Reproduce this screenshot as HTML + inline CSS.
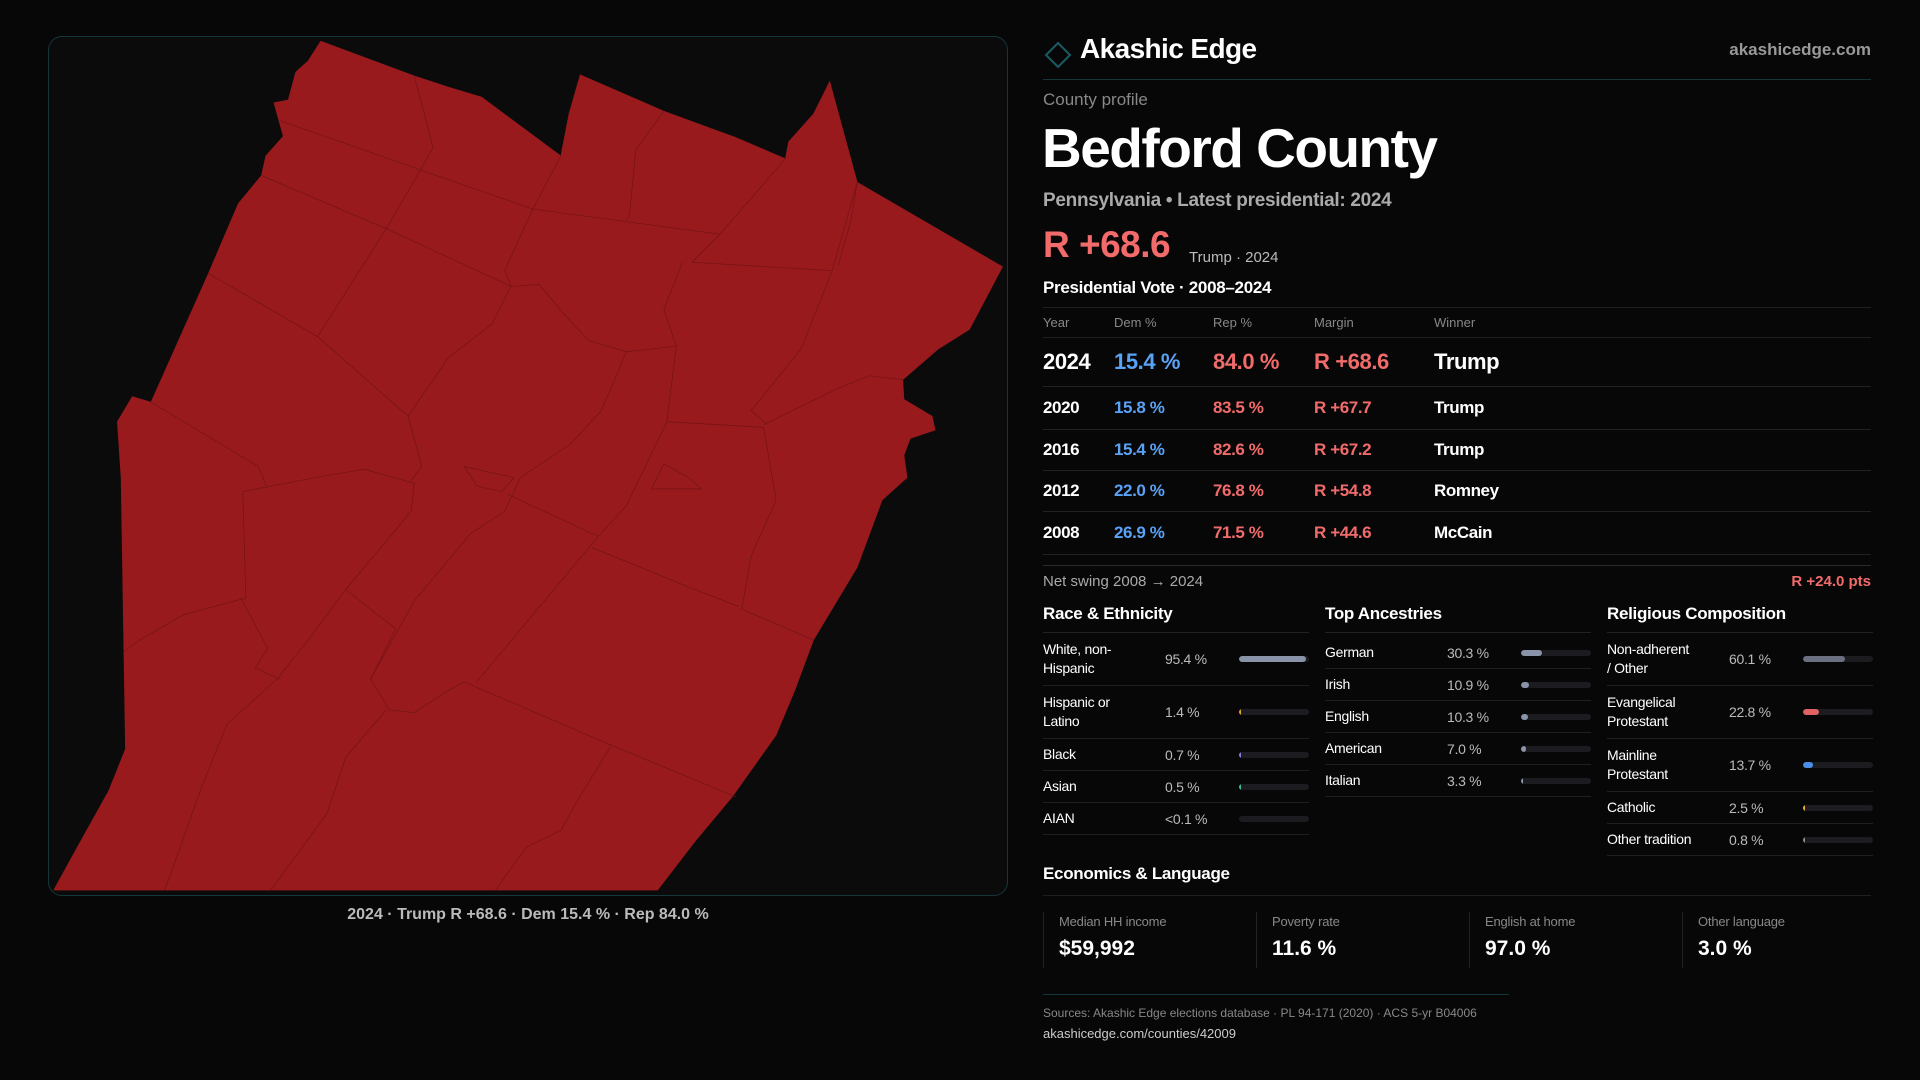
<!DOCTYPE html>
<html><head><meta charset="utf-8">
<style>
*{box-sizing:border-box;margin:0;padding:0}
body{width:1920px;height:1080px;background:#070708;font-family:"Liberation Sans",sans-serif;color:#fff;position:relative;overflow:hidden}
.abs{position:absolute;white-space:nowrap}
#map-panel{position:absolute;left:48px;top:36px;width:960px;height:860px;border:1px solid #15363b;border-radius:14px;background:#0b0b0c;overflow:hidden}
.hline{position:absolute;height:1px;background:#1f1f22}
.col{position:absolute;top:600px;width:266px}
.col h3{font-size:17px;font-weight:bold;height:33px;line-height:27px;border-bottom:1px solid #222;letter-spacing:-0.3px}
.row{display:flex;align-items:center;border-bottom:1px solid #1f1f22;font-size:14px;letter-spacing:-0.3px}
.row .lab{width:122px;line-height:19px;white-space:normal}
.row .val{width:74px;color:#bbb}
.row .bar{width:70px;height:6px;border-radius:3px;background:#1c1c20;position:relative;overflow:hidden}
.row .fill{position:absolute;left:0;top:0;bottom:0;border-radius:3px}
.trow{position:absolute;left:1043px;width:828px;border-bottom:1px solid #222;display:flex;align-items:center}
.trow span{position:absolute;white-space:nowrap}
.stat{position:absolute;top:912px;width:213px;height:56px;border-left:1px solid #222;padding-left:15px}
.stat .l{font-size:13px;color:#888;margin-top:2px;letter-spacing:-0.2px}
.stat .v{font-size:21px;font-weight:bold;margin-top:8px}
</style></head><body>

<div id="map-panel"></div>
<svg class="abs" style="left:0;top:0" width="1920" height="1080">
 <g transform="translate(40,30) scale(0.6238,0.5596)">
  <path fill="#981a1d" stroke="#981a1d" d="M450,20 L600,82 L655,102 L708,120 L835,225 L848,150 L866,80 L1000,145 L1115,192 L1195,230 L1200,200 L1240,150 L1266,92 L1310,272 L1543,423 L1490,535 L1440,570 L1383,625 L1385,660 L1430,690 L1435,715 L1395,730 L1385,760 L1390,800 L1350,840 L1310,960 L1240,1090 L1210,1180 L1180,1260 L1110,1370 L1050,1450 L990,1537 L22,1537 L60,1460 L110,1360 L137,1285 L130,800 L124,700 L148,655 L178,665 L270,435 L318,310 L355,260 L362,225 L390,190 L375,130 L398,125 L410,75 L430,55 Z"/>
  <g fill="none" stroke="#741316" stroke-width="0.7">
   <path vector-effect="non-scaling-stroke" d="M385,162 L610,250 L790,320 L1090,365"/>
   <path vector-effect="non-scaling-stroke" d="M600,82 L630,210 L610,250 L555,355 L445,548 L590,690 L612,780 L595,805"/>
   <path vector-effect="non-scaling-stroke" d="M355,260 L555,355 L755,458"/>
   <path vector-effect="non-scaling-stroke" d="M270,435 L445,548"/>
   <path vector-effect="non-scaling-stroke" d="M178,665 L350,780 L365,820"/>
   <path vector-effect="non-scaling-stroke" d="M835,225 L790,320 L745,430 L755,458 L725,525 L655,585 L590,690"/>
   <path vector-effect="non-scaling-stroke" d="M1000,145 L955,215 L945,330 L940,340"/>
   <path vector-effect="non-scaling-stroke" d="M1195,230 L1090,365 L1045,415 L1270,430 L1310,272"/>
   <path vector-effect="non-scaling-stroke" d="M1030,415 L1000,500 L1020,565 L1005,700 L940,850 L895,905 L700,1165"/>
   <path vector-effect="non-scaling-stroke" d="M755,458 L800,455 L850,520 L880,555 L940,575 L1020,565"/>
   <path vector-effect="non-scaling-stroke" d="M940,575 L900,680 L850,740 L770,800 L745,860 L690,900 L600,1020 L530,1160 L560,1215 L600,1220 L655,1180 L680,1165 L920,1280 L1115,1370"/>
   <path vector-effect="non-scaling-stroke" d="M325,825 L440,800 L520,785 L600,810 L595,860 L490,1000 L430,1090 L380,1160 L300,1240 L260,1350 L200,1537"/>
   <path vector-effect="non-scaling-stroke" d="M1005,700 L1160,710 L1180,840 L1140,940 L1125,1035 L1240,1090"/>
   <path vector-effect="non-scaling-stroke" d="M885,925 L1050,1000 L1120,1030"/>
   <path vector-effect="non-scaling-stroke" d="M750,830 L895,905"/>
   <path vector-effect="non-scaling-stroke" d="M325,825 L330,1015 L230,1045 L160,1090 L135,1110"/>
   <path vector-effect="non-scaling-stroke" d="M322,1015 L365,1105 L345,1140 L385,1160"/>
   <path vector-effect="non-scaling-stroke" d="M490,1000 L570,1070 L530,1160"/>
   <path vector-effect="non-scaling-stroke" d="M1160,705 L1280,640 L1330,618 L1383,625"/>
   <path vector-effect="non-scaling-stroke" d="M1270,430 L1245,500 L1220,570 L1140,680 L1165,705"/>
   <path vector-effect="non-scaling-stroke" d="M915,1280 L860,1380 L835,1430 L780,1460 L730,1537"/>
   <path vector-effect="non-scaling-stroke" d="M555,1215 L490,1300 L460,1400 L370,1537"/>
   <path vector-effect="non-scaling-stroke" d="M1310,272 L1300,340 L1280,420"/>
   <path vector-effect="non-scaling-stroke" d="M680,780 L720,790 L760,800 L740,825 L700,815 Z"/>
   <path vector-effect="non-scaling-stroke" d="M1000,775 L1040,800 L1060,820 L980,820 Z"/>
  </g>
 </g>
</svg>
<div class="abs" style="left:0;width:1056px;top:906px;text-align:center;font-size:16px;color:#bbb;font-weight:bold">2024 · Trump R +68.6 · Dem 15.4 % · Rep 84.0 %</div>

<svg class="abs" style="left:1044px;top:40px" width="28" height="30"><path d="M14,3 L26,15 L14,27 L2,15 Z" fill="none" stroke="#1b5a63" stroke-width="2"/></svg>
<div class="abs" style="left:1080px;top:33px;font-size:28px;font-weight:bold;letter-spacing:-0.6px">Akashic Edge</div>
<div class="abs" style="right:49px;top:40px;font-size:17px;color:#999;font-weight:bold">akashicedge.com</div>
<div class="hline" style="left:1043px;width:828px;top:79px;background:#13363b"></div>
<div class="abs" style="left:1043px;top:90px;font-size:17px;color:#888">County profile</div>
<div class="abs" style="left:1042px;top:116px;font-size:55px;font-weight:bold;letter-spacing:-1.5px">Bedford County</div>
<div class="abs" style="left:1043px;top:190px;font-size:19px;color:#aaa;font-weight:bold;letter-spacing:-0.3px">Pennsylvania • Latest presidential: 2024</div>
<div class="abs" style="left:1043px;top:224px;font-size:37px;color:#f26b6b;font-weight:bold;letter-spacing:-0.5px">R +68.6</div>
<div class="abs" style="left:1189px;top:249px;font-size:15px;color:#bbb">Trump · 2024</div>
<div class="abs" style="left:1043px;top:278px;font-size:17px;font-weight:bold;letter-spacing:-0.3px">Presidential Vote · 2008–2024</div>
<div class="hline" style="left:1043px;width:828px;top:307px"></div>
<div class="abs" style="left:1043px;top:315px;font-size:13px;color:#888">Year</div>
<div class="abs" style="left:1114px;top:315px;font-size:13px;color:#888">Dem %</div>
<div class="abs" style="left:1213px;top:315px;font-size:13px;color:#888">Rep %</div>
<div class="abs" style="left:1314px;top:315px;font-size:13px;color:#888">Margin</div>
<div class="abs" style="left:1434px;top:315px;font-size:13px;color:#888">Winner</div>
<div class="hline" style="left:1043px;width:828px;top:337px"></div>
<div id="vote-table"></div>
<div class="hline" style="left:1043px;width:828px;top:565px;background:#2a2a2e"></div>
<div class="abs" style="left:1043px;top:573px;font-size:15px;color:#aaa">Net swing 2008 → 2024</div>
<div class="abs" id="swing" style="right:49px;top:573px;font-size:15px;color:#f26b6b;font-weight:bold"></div>

<div class="col" style="left:1043px"><h3>Race &amp; Ethnicity</h3><div id="race"></div></div>
<div class="col" style="left:1325px"><h3>Top Ancestries</h3><div id="anc" style="padding-top:4px"></div></div>
<div class="col" style="left:1607px"><h3>Religious Composition</h3><div id="rel"></div></div>

<div class="abs" style="left:1043px;top:864px;font-size:17px;font-weight:bold;letter-spacing:-0.3px">Economics &amp; Language</div>
<div class="hline" style="left:1043px;width:828px;top:895px"></div>
<div class="stat" style="left:1043px"><div class="l">Median HH income</div><div class="v">$59,992</div></div>
<div class="stat" style="left:1256px"><div class="l">Poverty rate</div><div class="v">11.6 %</div></div>
<div class="stat" style="left:1469px"><div class="l">English at home</div><div class="v">97.0 %</div></div>
<div class="stat" style="left:1682px"><div class="l">Other language</div><div class="v">3.0 %</div></div>

<div class="hline" style="left:1043px;width:466px;top:994px;background:#13363b"></div>
<div class="abs" style="left:1043px;top:1006px;font-size:12px;color:#888">Sources: Akashic Edge elections database · PL 94-171 (2020) · ACS 5-yr B04006</div>
<div class="abs" style="left:1043px;top:1026px;font-size:13px;color:#ccc">akashicedge.com/counties/42009</div>

<script>
const years = [2024, 2020, 2016, 2012, 2008];
const demPct = [15.4, 15.8, 15.4, 22.0, 26.9];
const repPct = [84.0, 83.5, 82.6, 76.8, 71.5];
const winners = ["Trump", "Trump", "Trump", "Romney", "McCain"];

const raceLabels = ["White, non-Hispanic", "Hispanic or Latino", "Black", "Asian", "AIAN"];
const raceValues = [95.4, 1.4, 0.7, 0.5, 0.05];
const raceText = ["95.4 %", "1.4 %", "0.7 %", "0.5 %", "<0.1 %"];
const ancLabels = ["German", "Irish", "English", "American", "Italian"];
const ancValues = [30.3, 10.9, 10.3, 7.0, 3.3];
const relLabels = ["Non-adherent / Other", "Evangelical Protestant", "Mainline Protestant", "Catholic", "Other tradition"];
const relValues = [60.1, 22.8, 13.7, 2.5, 0.8];

const raceColors = ["#8a94a8", "#e0a030", "#8a7ae0", "#30c090", "#666"];
const relColors = ["#6b7080", "#e06262", "#4a8ee8", "#e8b030", "#8a8a94"];

const tbl = document.getElementById('vote-table');
const rowH = [49, 43, 41, 41, 43];
let y = 338;
years.forEach((yr, i) => {
  const h = rowH[i] || 41;
  const big = i === 0;
  const r = document.createElement('div');
  r.className = 'trow';
  
  
  r.style.top = y + 'px'; r.style.height = h + 'px';
  const fs = big ? 22 : 17;
  const m = repPct[i] - demPct[i];
  const cells = [[0, yr, '#fff'], [71, demPct[i].toFixed(1) + ' %', '#5aa2f5'], [170, repPct[i].toFixed(1) + ' %', '#f26b6b'], [271, (m >= 0 ? 'R +' : 'D +') + Math.abs(m).toFixed(1), '#f26b6b'], [391, winners[i], '#fff']];
  cells.forEach(c => {
    const s = document.createElement('span');
    
    
    s.textContent = c[1];
    s.style.left = c[0] + 'px'; s.style.color = c[2];
    s.style.fontSize = fs + 'px'; s.style.fontWeight = 'bold';
    s.style.letterSpacing = '-0.4px';
    r.appendChild(s);
  });
  tbl.appendChild(r);
  y += h;
});
const swing = (repPct[0] - demPct[0]) - (repPct[years.length - 1] - demPct[years.length - 1]);
document.getElementById('swing').textContent = (swing >= 0 ? 'R +' : 'D +') + Math.abs(swing).toFixed(1) + ' pts';

function barScale(v) { return Math.max(0, Math.min(100, v)) / 100 * 70; }

function buildRows(containerId, labels, values, texts, colors, prefix) {
  const c = document.getElementById(containerId);
  labels.forEach((lab, i) => {
    const two = lab.length > 16;
    const row = document.createElement('div');
    row.className = 'row';
    
    
    row.style.height = (two ? 53 : 32) + 'px';
    const l = document.createElement('div'); l.className = 'lab'; l.textContent = lab;
    if (two) l.style.paddingRight = '34px';
    const v = document.createElement('div'); v.className = 'val'; v.textContent = texts ? texts[i] : values[i].toFixed(1) + ' %';
    const b = document.createElement('div'); b.className = 'bar';
    
    
    const f = document.createElement('div'); f.className = 'fill';
    
    
    const w = barScale(values[i]);
    f.style.width = Math.max(w, values[i] >= 0.5 ? 2 : 0) + 'px';
    f.style.background = colors[i];
    b.appendChild(f);
    row.appendChild(l); row.appendChild(v); row.appendChild(b);
    c.appendChild(row);
  });
}
buildRows('race', raceLabels, raceValues, raceText, raceColors, 'race');
buildRows('anc', ancLabels, ancValues, null, ancLabels.map(() => '#8a94a8'), 'ancestry');
buildRows('rel', relLabels, relValues, null, relColors, 'religion');
</script>
</body></html>
